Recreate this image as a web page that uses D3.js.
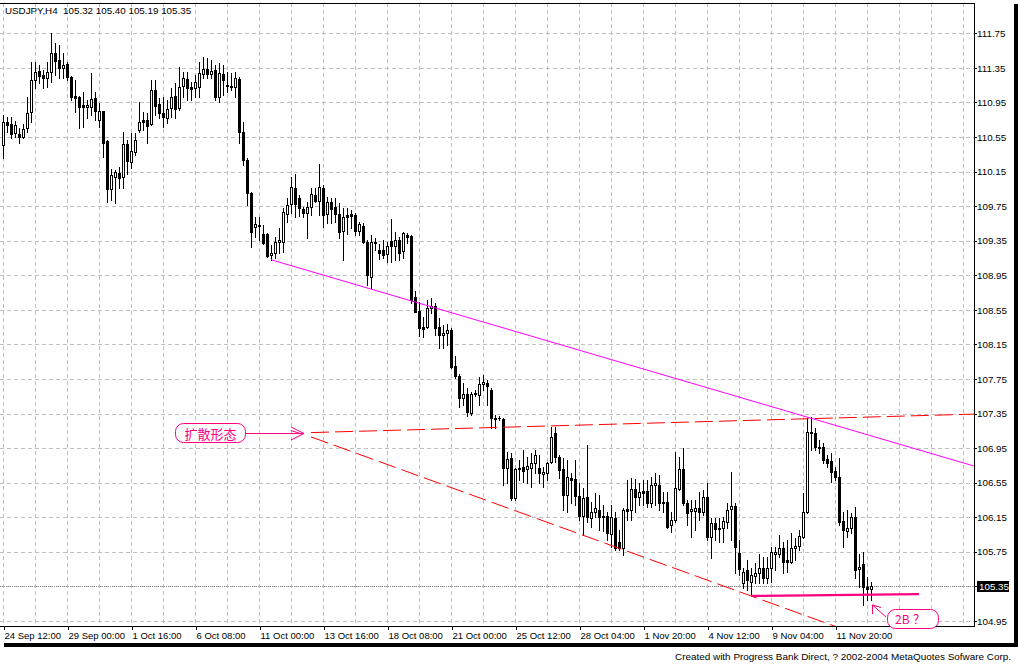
<!DOCTYPE html>
<html><head><meta charset="utf-8">
<script src="https://cdn.jsdelivr.net/npm/d3@7/dist/d3.min.js"></script>
<style>html,body{margin:0;padding:0;background:#fff;}svg{display:block;}</style>
</head><body>
<script>
// ---- DATA ----
const symbolTitle = "USDJPY,H4  105.32 105.40 105.19 105.35";
const footerText = "Created with Progress Bank Direct, ? 2002-2004 MetaQuotes Sofware Corp.";
const xTickIndex = [0,16,32,48,64,80,96,112,128,144,160,176,192,208];
const xTickLabels = ["24 Sep 12:00","29 Sep 00:00","1 Oct 16:00","6 Oct 08:00","11 Oct 00:00","13 Oct 16:00","18 Oct 08:00","21 Oct 00:00","25 Oct 12:00","28 Oct 04:00","1 Nov 20:00","4 Nov 12:00","9 Nov 04:00","11 Nov 20:00"];
const yTickLabels = ["111.75","111.35","110.95","110.55","110.15","109.75","109.35","108.95","108.55","108.15","107.75","107.35","106.95","106.55","106.15","105.75","105.35","104.95"];
const lastPrice = 105.35;

const opens = [110.46,110.72,110.70,110.60,110.59,110.55,110.65,110.84,111.21,111.31,111.27,111.23,111.30,111.52,111.44,111.35,111.40,111.24,111.02,111.01,110.92,110.90,110.90,111.00,110.75,110.85,110.50,109.95,110.09,110.13,110.09,110.47,110.26,110.38,110.63,110.75,110.75,110.70,111.09,110.93,110.83,110.77,110.89,111.02,110.89,111.14,111.22,111.13,111.12,111.13,111.28,111.34,111.28,111.33,111.01,111.28,111.15,111.14,111.13,111.22,110.61,110.28,109.90,109.51,109.53,109.43,109.43,109.19,109.21,109.33,109.33,109.66,109.77,109.96,109.84,109.72,109.67,109.74,109.88,109.81,109.96,109.66,109.80,109.74,109.66,109.46,109.65,109.66,109.65,109.46,109.52,109.33,108.93,109.33,109.24,109.24,109.20,109.35,109.29,109.36,109.23,109.42,109.40,108.70,108.54,108.35,108.35,108.57,108.59,108.35,108.26,108.28,108.32,107.90,107.78,107.53,107.58,107.36,107.58,107.57,107.69,107.70,107.62,107.30,107.30,107.29,106.72,106.84,106.37,106.72,106.73,106.71,106.72,106.78,106.72,106.65,106.66,106.79,107.13,106.85,106.71,106.41,106.60,106.59,106.40,106.17,106.38,106.14,106.21,106.23,106.15,106.17,105.96,106.14,105.86,105.79,106.25,106.23,106.48,106.38,106.45,106.45,106.32,106.52,106.52,106.33,106.33,106.06,106.12,106.48,106.71,106.32,106.22,106.22,106.26,106.21,106.38,105.92,106.08,106.02,106.03,106.10,106.25,106.28,105.74,105.39,105.54,105.40,105.47,105.51,105.56,105.45,105.56,105.72,105.72,105.79,105.66,105.63,105.79,105.82,105.92,106.21,107.13,107.13,106.96,106.96,106.82,106.80,106.69,106.62,106.11,105.99,106.03,106.15,105.55,105.61,105.34,105.32];
const highs = [110.80,110.78,110.78,110.73,110.65,110.70,111.01,111.42,111.42,111.38,111.33,111.42,111.75,111.64,111.61,111.52,111.42,111.26,111.21,111.02,111.07,110.98,111.29,111.07,110.94,110.85,110.52,110.18,110.17,110.20,110.61,110.52,110.60,110.60,110.96,110.84,110.83,111.21,111.21,111.00,111.01,110.98,111.12,111.17,111.36,111.30,111.30,111.19,111.27,111.42,111.48,111.46,111.44,111.38,111.41,111.38,111.30,111.29,111.30,111.24,110.72,110.31,109.91,109.62,109.62,109.53,109.44,109.30,109.39,109.50,109.73,109.84,110.09,110.12,109.88,109.74,109.80,109.96,109.96,110.24,109.99,109.86,109.84,109.84,109.79,109.73,109.73,109.71,109.67,109.57,109.56,109.36,109.42,109.38,109.31,109.36,109.33,109.60,109.45,109.39,109.45,109.44,109.42,108.77,108.64,108.47,108.66,108.69,108.63,108.46,108.38,108.39,108.34,108.02,107.81,107.70,107.65,107.60,107.62,107.77,107.80,107.74,107.65,107.33,107.32,107.30,106.90,106.89,106.72,106.81,106.93,106.85,106.89,106.93,106.87,106.73,106.79,107.19,107.19,106.87,106.84,106.81,106.66,106.81,106.55,106.49,106.99,106.33,106.43,106.41,106.29,106.21,106.29,106.21,106.00,106.26,106.58,106.60,106.59,106.55,106.58,106.58,106.62,106.66,106.64,106.44,106.44,106.21,106.90,106.85,106.95,106.35,106.35,106.35,106.44,106.47,106.55,106.14,106.14,106.14,106.15,106.32,106.67,106.32,105.89,105.56,105.66,105.56,105.62,105.72,105.69,105.69,105.81,105.81,105.94,105.86,105.89,105.97,105.91,106.00,106.43,107.30,107.31,107.18,107.04,107.01,106.87,106.89,106.73,106.84,106.21,106.23,106.20,106.27,105.72,105.75,105.46,105.40];
const lows = [110.31,110.61,110.54,110.55,110.48,110.54,110.61,110.72,111.12,111.17,111.12,111.13,111.19,111.27,111.23,111.23,111.21,110.98,110.84,110.65,110.67,110.77,110.80,110.75,110.67,110.32,109.80,109.82,109.79,109.96,109.96,110.12,110.19,110.34,110.61,110.63,110.48,110.69,110.80,110.77,110.67,110.71,110.78,110.77,110.86,111.01,110.98,110.98,111.01,111.01,111.23,111.23,111.23,110.98,110.96,111.04,111.07,111.09,111.01,110.48,110.23,109.76,109.28,109.39,109.36,109.31,109.16,109.13,109.15,109.21,109.22,109.57,109.67,109.62,109.64,109.62,109.38,109.65,109.80,109.65,109.51,109.55,109.55,109.57,109.38,109.13,109.43,109.50,109.42,109.42,109.32,108.84,108.80,109.24,109.14,109.15,109.10,109.10,109.13,109.13,109.15,109.32,108.63,108.52,108.25,108.24,108.34,108.51,108.26,108.11,108.11,108.14,107.88,107.76,107.43,107.45,107.32,107.33,107.55,107.45,107.62,107.45,107.18,107.18,107.28,106.52,106.55,106.35,106.35,106.58,106.56,106.55,106.50,106.66,106.55,106.50,106.58,106.78,106.79,106.60,106.23,106.21,106.32,106.29,106.12,105.94,106.10,106.04,106.15,106.00,105.99,105.89,105.81,105.77,105.77,105.71,106.12,106.12,106.21,106.29,106.29,106.27,106.27,106.29,106.23,106.21,106.03,105.98,106.10,106.47,106.29,106.06,105.92,106.00,106.12,106.18,105.89,105.68,105.89,105.86,105.86,106.03,105.89,105.51,105.48,105.33,105.31,105.24,105.39,105.39,105.39,105.39,105.40,105.54,105.69,105.51,105.52,105.62,105.66,105.77,105.91,106.20,106.93,106.93,106.89,106.78,106.73,106.56,106.58,106.06,105.81,105.92,105.97,105.45,105.34,105.14,105.19,105.19];
const closes = [110.72,110.69,110.59,110.69,110.55,110.64,110.83,111.21,111.30,111.26,111.23,111.30,111.52,111.43,111.35,111.38,111.24,111.01,111.00,110.90,110.90,110.92,110.99,110.85,110.85,110.48,109.95,110.11,110.15,110.08,110.47,110.27,110.39,110.52,110.72,110.72,110.68,111.09,110.91,110.83,110.78,110.87,111.01,110.87,111.13,111.23,111.12,111.11,111.19,111.29,111.34,111.28,111.31,111.01,111.29,111.21,111.14,111.13,111.23,110.61,110.28,109.90,109.45,109.54,109.52,109.32,109.17,109.21,109.33,109.36,109.68,109.76,109.97,109.77,109.73,109.67,109.74,109.89,109.81,109.97,109.65,109.80,109.72,109.66,109.45,109.62,109.62,109.64,109.46,109.54,109.33,108.95,109.33,109.32,109.21,109.19,109.29,109.29,109.36,109.21,109.44,109.39,108.66,108.53,108.34,108.33,108.57,108.60,108.34,108.26,108.28,108.32,107.89,107.78,107.53,107.58,107.37,107.58,107.59,107.69,107.72,107.67,107.30,107.29,107.30,106.72,106.82,106.37,106.71,106.71,106.69,106.74,106.78,106.87,106.66,106.67,106.78,107.08,106.85,106.70,106.41,106.62,106.58,106.40,106.17,106.37,106.15,106.21,106.26,106.15,106.17,105.97,106.15,105.79,105.79,106.23,106.22,106.48,106.38,106.44,106.43,106.32,106.52,106.55,106.32,106.32,106.04,106.12,106.49,106.71,106.32,106.20,106.25,106.26,106.21,106.38,105.92,106.08,106.02,106.03,106.11,106.23,106.28,105.81,105.55,105.52,105.42,105.48,105.51,105.56,105.45,105.56,105.75,105.75,105.79,105.63,105.63,105.79,105.82,105.93,106.21,107.14,107.14,106.96,106.95,106.81,106.78,106.67,106.62,106.10,106.00,106.03,106.15,105.54,105.57,105.34,105.32,105.35];

// drawing objects: [barIndex, price] anchor pairs
const magentaTrend = [[67,109.13],[201,107.31]];
const redUpper = [[77,107.13],[201,107.29]];
const redLower = [[77,107.08],[187,105.24]];
const pinkLevel = [[187,105.24],[229,105.26]];
const label1 = "扩散形态";
const label2a = "2B";
const label2b = "？";

// ---- LAYOUT ----
const W = 1018, H = 664;
const plotL = 0, plotT = 3, plotR = 974, plotB = 626;
const fontUI = "'Liberation Sans', Arial, sans-serif";
const pink = "#FF0080";

const yTicks = yTickLabels.map(Number);
const y = d3.scaleLinear().domain([104.95, 111.75]).range([621, 33.3]);
const x = d3.scaleLinear().domain([0, 1]).range([3, 7]);

const svg = d3.select("body").append("svg").attr("width", W).attr("height", H);
svg.append("rect").attr("width", W).attr("height", H).attr("fill", "#fff");

// shadow bands
svg.append("rect").attr("x", 1014).attr("y", 4).attr("width", 4).attr("height", 643).attr("fill", "#000");
svg.append("rect").attr("x", 4).attr("y", 643).attr("width", 1014).attr("height", 4).attr("fill", "#000");

svg.append("defs").append("clipPath").attr("id", "plotclip")
  .append("rect").attr("x", plotL).attr("y", plotT).attr("width", plotR - plotL).attr("height", plotB - plotT);

const grid = svg.append("g").attr("shape-rendering", "crispEdges");
yTicks.forEach(t => {
  const yy = Math.round(y(t)) + 0.5;
  grid.append("line").attr("x1", plotL).attr("x2", plotR).attr("y1", yy).attr("y2", yy)
    .attr("stroke", "#C0C0C0").attr("stroke-dasharray", "4,3");
});
for (let i = 0; i <= 240; i += 8) {
  const xx = Math.round(x(i)) + 0.5;
  if (xx > plotR) break;
  grid.append("line").attr("x1", xx).attr("x2", xx).attr("y1", plotT).attr("y2", plotB)
    .attr("stroke", "#C0C0C0").attr("stroke-dasharray", "4,3");
}

// last price dotted line
const lpY = Math.round(y(lastPrice)) + 0.5;
grid.append("line").attr("x1", plotL).attr("x2", plotR).attr("y1", lpY).attr("y2", lpY)
  .attr("stroke", "#888").attr("stroke-dasharray", "1,1");

// candles
const cg = svg.append("g").attr("clip-path", "url(#plotclip)").attr("shape-rendering", "crispEdges");
opens.forEach((o, i) => {
  const c = closes[i], h = highs[i], l = lows[i];
  const cx = Math.round(x(i));
  cg.append("line").attr("x1", cx + 0.5).attr("x2", cx + 0.5)
    .attr("y1", Math.round(y(h))).attr("y2", Math.round(y(l)) + 1).attr("stroke", "#000");
  const top = Math.round(y(Math.max(o, c))), bot = Math.round(y(Math.min(o, c)));
  if (bot - top < 1) {
    cg.append("rect").attr("x", cx - 1).attr("y", top).attr("width", 3).attr("height", 1).attr("fill", "#000");
  } else if (c < o) {
    cg.append("rect").attr("x", cx - 1).attr("y", top).attr("width", 3).attr("height", bot - top + 1).attr("fill", "#000");
  } else {
    cg.append("rect").attr("x", cx - 0.5).attr("y", top + 0.5).attr("width", 2).attr("height", bot - top)
      .attr("fill", "#fff").attr("stroke", "#000");
  }
});

// trend objects
const og = svg.append("g").attr("clip-path", "url(#plotclip)");
function ray(anchors, color, width, dash, toEdge) {
  const [a, b] = anchors;
  const x1 = x(a[0]), y1 = y(a[1]), x2 = x(b[0]), y2 = y(b[1]);
  let xe = x2, ye = y2;
  if (toEdge) { xe = plotR + 1; ye = y1 + (y2 - y1) * (xe - x1) / (x2 - x1); }
  const ln = og.append("line").attr("x1", x1).attr("y1", y1).attr("x2", xe).attr("y2", ye)
    .attr("stroke", color).attr("stroke-width", width);
  if (dash) ln.attr("stroke-dasharray", dash);
}
ray(magentaTrend, "#FF00FF", 1, null, true);
ray(redUpper, "#FF0000", 1, "18,6", true);
ray(redLower, "#FF0000", 1, "18,6", true);
ray(pinkLevel, pink, 2.2, null, false);

// frame
const fr = svg.append("g").attr("shape-rendering", "crispEdges");
fr.append("line").attr("x1", 0).attr("x2", plotR + 1).attr("y1", plotT + 0.5).attr("y2", plotT + 0.5).attr("stroke", "#000");
fr.append("line").attr("x1", 0).attr("x2", plotR + 1).attr("y1", plotB + 0.5).attr("y2", plotB + 0.5).attr("stroke", "#000");
fr.append("line").attr("x1", plotR + 0.5).attr("x2", plotR + 0.5).attr("y1", plotT).attr("y2", plotB + 1).attr("stroke", "#000");

// axes
const yAxis = d3.axisRight(y).tickValues(yTicks).tickFormat((d, i) => yTickLabels[i]).tickSize(3).tickPadding(0);
const gy = svg.append("g").attr("transform", `translate(${plotR},0)`).call(yAxis);
gy.select(".domain").remove();
gy.selectAll("line").attr("stroke", "#000").attr("shape-rendering", "crispEdges");
gy.selectAll("text").attr("font-family", fontUI).attr("font-size", "9.8px").attr("fill", "#000");

const xAxis = d3.axisBottom(x).tickValues(xTickIndex).tickFormat((d, i) => xTickLabels[i]).tickSize(4).tickPadding(2);
const gx = svg.append("g").attr("transform", `translate(0.5,${plotB})`).call(xAxis);
gx.select(".domain").remove();
gx.selectAll("line").attr("stroke", "#000").attr("shape-rendering", "crispEdges");
gx.selectAll("text").attr("font-family", fontUI).attr("font-size", "9.5px").attr("fill", "#000")
  .attr("text-anchor", "start").attr("x", 0.5);

// last price box
svg.append("rect").attr("x", 977).attr("y", Math.round(y(lastPrice)) - 5).attr("width", 32).attr("height", 11).attr("fill", "#000");
svg.append("text").attr("x", 979).attr("y", Math.round(y(lastPrice)) + 3.5)
  .attr("font-family", fontUI).attr("font-size", "9.8px").attr("fill", "#fff").text(lastPrice.toFixed(2));

// header & footer
svg.append("text").attr("x", 5).attr("y", 13.5).attr("font-family", fontUI).attr("font-size", "9.8px")
  .attr("xml:space", "preserve").style("white-space", "pre").attr("fill", "#000").text(symbolTitle);
svg.append("text").attr("x", 675).attr("y", 659.5).attr("font-family", fontUI).attr("font-size", "9.5px")
  .attr("textLength", 336).attr("lengthAdjust", "spacingAndGlyphs").attr("fill", "#000").text(footerText);

// callout 1
const cjk = "'Noto Sans CJK SC', sans-serif";
svg.append("rect").attr("x", 175.5).attr("y", 423.5).attr("width", 70).attr("height", 19).attr("rx", 8)
  .attr("fill", "#fff").attr("stroke", pink);
svg.append("text").attr("x", 210.5).attr("y", 433.5).attr("text-anchor", "middle").attr("dominant-baseline", "central")
  .attr("font-family", cjk).attr("font-size", "13px").attr("fill", pink).text(label1);
svg.append("line").attr("x1", 245.5).attr("x2", 303).attr("y1", 433.5).attr("y2", 433.5).attr("stroke", pink);
svg.append("path").attr("d", "M291,427 L304,433.5 L291,440 M291,430.5 L300,433.5").attr("fill", "none").attr("stroke", pink);

// callout 2
svg.append("rect").attr("x", 887.5).attr("y", 609.5).attr("width", 51).attr("height", 19).attr("rx", 8)
  .attr("fill", "#fff").attr("stroke", pink);
const t2 = svg.append("text").attr("y", 624).attr("font-family", cjk).attr("font-size", "12px").attr("fill", pink);
t2.append("tspan").attr("x", 895).text(label2a);
t2.append("tspan").attr("x", 913).text(label2b);
svg.append("path").attr("d", "M886,617 L872.5,605 M872.5,605 L872.5,614 M872.5,605 L881,607.5")
  .attr("fill", "none").attr("stroke", pink);
</script>
</body></html>
